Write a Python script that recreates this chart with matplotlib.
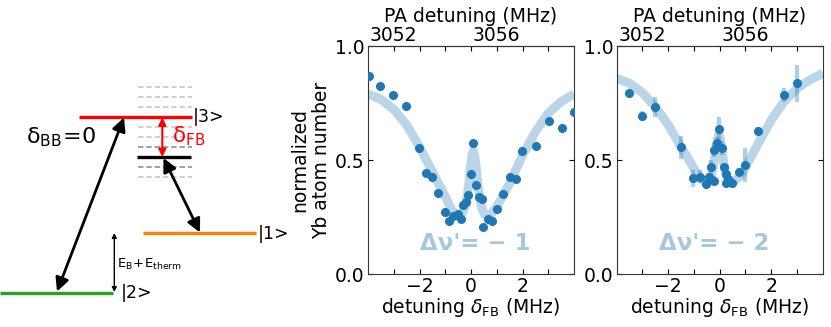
import numpy as np
import matplotlib
matplotlib.use('Agg')
import matplotlib.pyplot as plt

# ---- data ----
# panel 1 (dv' = -1), no error bars
det1 = [-3.98, -3.53, -3.02, -2.52, -2.03, -1.76, -1.51, -1.27, -1.01, -0.86,
        -0.70, -0.52, -0.40, -0.32, -0.19, -0.12, 0.00, 0.09, 0.19, 0.30,
        0.41, 0.48, 0.66, 0.80, 1.00, 1.25, 1.51, 1.74, 1.99, 2.51,
        3.01, 3.52, 3.99]
atoms1 = [0.868, 0.823, 0.785, 0.738, 0.554, 0.443, 0.424, 0.354, 0.272, 0.232,
          0.256, 0.263, 0.241, 0.303, 0.317, 0.346, 0.439, 0.575, 0.389, 0.339,
          0.329, 0.208, 0.243, 0.232, 0.287, 0.352, 0.427, 0.418, 0.541, 0.561,
          0.673, 0.639, 0.709]
fit1_x = [-4.0, -3.5, -3.0, -2.5, -2.0, -1.5, -1.0, -0.75, -0.5, -0.35, -0.25,
          -0.15, -0.08, -0.02, 0.04, 0.09, 0.14, 0.20, 0.26, 0.33, 0.42, 0.52,
          0.65, 0.8, 1.0, 1.5, 2.0, 2.5, 3.0, 3.5, 4.0]
fit1_y = [0.79, 0.766, 0.722, 0.654, 0.558, 0.449, 0.34, 0.28, 0.255, 0.265, 0.29,
          0.34, 0.40, 0.47, 0.52, 0.54, 0.52, 0.47, 0.40, 0.34, 0.29, 0.262,
          0.255, 0.265, 0.295, 0.397, 0.52, 0.624, 0.705, 0.756, 0.79]

# panel 2 (dv' = -2), with error bars
det2 = [-3.53, -3.03, -2.52, -1.52, -1.02, -0.78, -0.53, -0.40, -0.32, -0.24,
        -0.21, -0.10, -0.01, 0.09, 0.18, 0.26, 0.26, 0.34, 0.49, 0.76,
        1.00, 1.50, 2.51, 3.00]
atoms2 = [0.795, 0.693, 0.734, 0.556, 0.420, 0.427, 0.395, 0.424, 0.469, 0.409,
          0.544, 0.573, 0.635, 0.554, 0.468, 0.439, 0.401, 0.415, 0.401, 0.446,
          0.478, 0.629, 0.784, 0.836]
err2 = [0.01, 0.02, 0.044, 0.05, 0.038, 0.03, 0.02, 0.02, 0.033, 0.02,
        0.03, 0.03, 0.053, 0.03, 0.02, 0.02, 0.02, 0.02, 0.02, 0.015,
        0.075, 0.015, 0.03, 0.08]
fit2_x = [-4.0, -3.5, -3.0, -2.5, -2.0, -1.5, -1.0, -0.75, -0.5, -0.35, -0.25,
          -0.17, -0.1, -0.04, 0.02, 0.08, 0.15, 0.25, 0.4, 0.6, 0.8, 1.0,
          1.5, 2.0, 2.5, 3.0, 3.5, 4.0]
fit2_y = [0.858, 0.836, 0.795, 0.734, 0.654, 0.558, 0.463, 0.418, 0.40, 0.42, 0.47,
          0.53, 0.585, 0.61, 0.595, 0.55, 0.49, 0.43, 0.405, 0.41, 0.43, 0.468,
          0.573, 0.675, 0.756, 0.814, 0.851, 0.88]

labels = ["Δν'= − 1", "Δν'= − 2"]
pa_offset = 3055  # PA detuning = delta_FB + offset (MHz)

blue = '#1f77b4'
fs = 13.5
plt.rcParams['font.family'] = 'DejaVu Sans'
plt.rcParams['font.size'] = fs

fig = plt.figure(figsize=(8.31, 3.27), dpi=100)

# ---- level diagram (pixel coordinates of the figure) ----
axd = fig.add_axes([0, 0, 1, 1], zorder=0)
axd.set_xlim(0, 831)
axd.set_ylim(327, 0)
axd.axis('off')

# dashed grey sublevels
for yy, c in [(86.7, '#cccccc'), (96.7, '#cccccc'), (106.7, '#cccccc'),
              (126.7, '#cccccc'), (136.7, '#cccccc'), (146.7, '#999999'),
              (166.7, '#999999'), (176.7, '#cccccc')]:
    axd.plot([138, 192], [yy, yy], color=c, lw=1.3, ls=(0, (3, 1.6)))

axd.plot([79, 192], [116.7, 116.7], color='red', lw=2.4, solid_capstyle='butt')
axd.plot([137, 191], [157.3, 157.3], color='black', lw=2.4, solid_capstyle='butt')
axd.plot([143, 256], [233.3, 233.3], color='#ff7f0e', lw=2.4, solid_capstyle='butt')
axd.plot([0, 113], [292.7, 292.7], color='#2ca02c', lw=2.4, solid_capstyle='butt')

axd.text(193, 117, '|3>', fontsize=12.5, va='center', ha='left')
axd.text(258, 234, '|1>', fontsize=12.5, va='center', ha='left')
axd.text(121, 293, '|2>', fontsize=12.5, va='center', ha='left')

big = dict(arrowstyle='<|-|>', color='black', lw=2.0, mutation_scale=20,
           shrinkA=0, shrinkB=0)
axd.annotate('', xy=(124, 117.5), xytext=(57, 291.5), arrowprops=big)
axd.annotate('', xy=(163.5, 158), xytext=(200, 232.5), arrowprops=big)
axd.annotate('', xy=(162.3, 117.5), xytext=(162.3, 157),
             arrowprops=dict(arrowstyle='<|-|>', color='red', lw=1.5,
                             mutation_scale=11, shrinkA=0, shrinkB=0))
axd.annotate('', xy=(114.3, 233), xytext=(114.3, 292),
             arrowprops=dict(arrowstyle='<|-|>', color='black', lw=1.0,
                             mutation_scale=7, shrinkA=0, shrinkB=0))

axd.text(26, 137, r'$\mathrm{\delta_{BB}\!=\!0}$', fontsize=16, va='center', ha='left')
axd.text(172, 136, r'$\mathrm{\delta_{FB}}$', fontsize=15.5, va='center', ha='left',
         color='red')
axd.text(117, 264, r'$\mathregular{E_B\!+\!E_{therm}}$', fontsize=9.5, va='center',
         ha='left')

# ---- data panels ----
lefts = [368 / 831, 616.7 / 831]
panels = [(det1, atoms1, None, fit1_x, fit1_y),
          (det2, atoms2, err2, fit2_x, fit2_y)]

for i, (dx, dy, de, fx, fy) in enumerate(panels):
    ax = fig.add_axes([lefts[i], 53 / 327, 206 / 831, 228 / 327], zorder=1)
    ax.patch.set_alpha(0)
    ax.plot(fx, fy, color=blue, alpha=0.3, lw=6.5, solid_capstyle='butt', zorder=1)
    if de is not None:
        ax.errorbar(dx, dy, yerr=de, fmt='none', ecolor=blue, alpha=0.35,
                    elinewidth=3, capsize=0, zorder=2)
    ax.plot(dx, dy, 'o', color=blue, ms=5.5, zorder=3)
    ax.text(0.15 if i == 0 else -0.2, 0.135, labels[i], color=blue, alpha=0.4,
            fontsize=16.5, fontweight='bold', ha='center', va='center')

    ax.set_xlim(-4, 4)
    ax.set_ylim(0, 1)
    ax.set_xticks([-2, 0, 2])
    ax.set_xticks([-3, -1, 1, 3], minor=True)
    ax.set_yticks([0, 0.5, 1.0])
    ax.set_yticklabels(['0.0', '0.5', '1.0'])
    ax.tick_params(which='both', direction='in', top=False, right=True,
                   length=3.5, width=0.8, labelsize=fs, pad=2.5)
    for s in ax.spines.values():
        s.set_color('#333333')
    ax.set_xlabel(r'detuning $\delta_\mathrm{FB}$ (MHz)', fontsize=fs, labelpad=0)
    if i == 0:
        ax.set_ylabel('normalized\nYb atom number', fontsize=fs, labelpad=3,
                      linespacing=1.15)

    sec = ax.secondary_xaxis('top', functions=(lambda d: d + pa_offset,
                                               lambda p: p - pa_offset))
    sec.set_xticks([3052, 3056])
    sec.set_xticks([3053, 3054, 3055, 3057, 3058], minor=True)
    sec.tick_params(which='both', direction='in', length=3.5, width=0.8,
                    labelsize=fs, pad=0.5)
    sec.spines['top'].set_color('#333333')
    sec.set_xlabel('PA detuning (MHz)', fontsize=fs, labelpad=3)

fig.savefig('out.png', dpi=100)
